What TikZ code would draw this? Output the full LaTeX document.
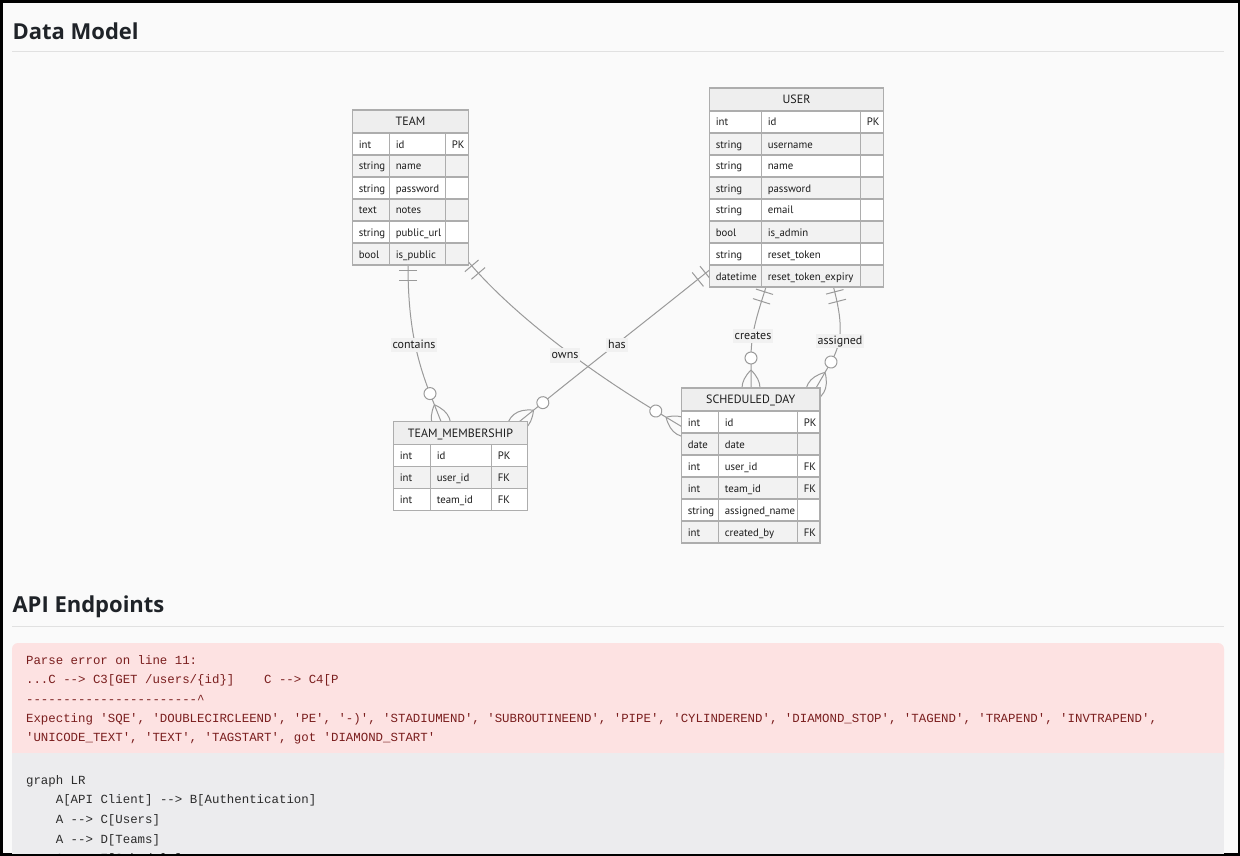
\documentclass[tikz,border=0pt]{standalone}
\usepackage{fontspec}
\setmainfont{PT Sans}
\setmonofont{Liberation Mono}
\newfontfamily\headfont{Open Sans}
\usetikzlibrary{calc}
\definecolor{pagebg}{HTML}{FAFAFA}
\definecolor{rulec}{HTML}{E1E1E1}
\definecolor{tborder}{HTML}{ADADAD}
\definecolor{hdrfill}{HTML}{EEEEEE}
\definecolor{evenfill}{HTML}{F2F2F2}
\definecolor{linec}{HTML}{9A9A9A}
\definecolor{txt}{HTML}{1C1C1C}
\definecolor{errbg}{HTML}{FDE2E2}
\definecolor{errtxt}{HTML}{7A1E1E}
\definecolor{codebg}{HTML}{ECECEE}
\definecolor{codetxt}{HTML}{2B2B2B}
\definecolor{headtxt}{HTML}{1F2328}
\definecolor{labelbg}{HTML}{F1F1F1}
\tikzset{
  tline/.style={draw=tborder, line width=1pt},
  hdrtext/.style={font=\fontsize{9}{11}\selectfont, text=txt, inner sep=0pt, anchor=base},
  celltext/.style={font=\fontsize{8.1}{10}\selectfont, text=txt, inner sep=0pt, anchor=base west},
  rline/.style={draw=linec, line width=0.75pt},
  rlabel/.style={fill=labelbg, text=txt, font=\fontsize{9}{11}\selectfont, inner xsep=1.5pt, inner ysep=1pt, text height=6.6pt, text depth=2pt},
  heading/.style={font=\headfont\bfseries\fontsize{16.5}{20}\selectfont, text=headtxt, inner sep=0pt, anchor=base west},
  errline/.style={font=\ttfamily\fontsize{9.3}{11}\selectfont, text=errtxt, inner sep=0pt, anchor=base west},
  codeline/.style={font=\ttfamily\fontsize{9.3}{11}\selectfont, text=codetxt, inner sep=0pt, anchor=base west},
  tablebox/.style={inner sep=0pt, outer sep=0pt, anchor=north west},
}
% #1 xL, #2 yT, #3 xc1, #4 xc2, #5 xR, #6 title, #7 rows
\newcommand\ertable[7]{%
  \fill[hdrfill] (#1,#2) rectangle (#5,#2+23);
  \draw[tline] (#1,#2) rectangle (#5,#2+23);
  \node[hdrtext] at ({(#1+#5)/2},#2+15.5) {#6};
  \foreach \ta/\na/\ka [count=\ri] in {#7} {
    \pgfmathsetmacro\ytop{#2+23+(\ri-1)*22}
    \ifodd\ri\def\rowfill{white}\else\def\rowfill{evenfill}\fi
    \fill[\rowfill] (#1,\ytop) rectangle (#5,\ytop+22);
  }
  \foreach \ta/\na/\ka [count=\ri] in {#7} {
    \pgfmathsetmacro\ytop{#2+23+(\ri-1)*22}
    \draw[tline] (#1,\ytop) rectangle (#3,\ytop+22);
    \draw[tline] (#3,\ytop) rectangle (#4,\ytop+22);
    \draw[tline] (#4,\ytop) rectangle (#5,\ytop+22);
    \node[celltext] at (#1+6,\ytop+15) {\ta};
    \node[celltext] at (#3+6,\ytop+15) {\na};
    \node[celltext] at (#4+6,\ytop+15) {\ka};
  }
}
% #1 start coord, #2 start angle, #3 end coord, #4 end angle, #5 ctrl1 dist, #6 ctrl2 offset (negative)
\newcommand\relation[6]{%
  \draw[rline] (#1) .. controls ($(#1)+(#2:#5)$) and ($(#3)+(#4:#6)$) .. ($(#3)+(#4:-30)$) -- ($(#3)+(#4:18)$);
  \begin{scope}[shift={(#1)}, rotate=-#2]
    \draw[rline] (5,-9) -- (5,9) (15,-9) -- (15,9);
  \end{scope}
  \begin{scope}[shift={(#3)}, rotate=-#4]
    \draw[rline] (-18,0) .. controls (-6,12) and (6,12) .. (18,0);
    \draw[rline] (-18,0) .. controls (-6,-12) and (6,-12) .. (18,0);
    \draw[rline, fill=white] (-30,0) circle[radius=4.5pt];
  \end{scope}
}
\begin{document}
\begin{tikzpicture}[x=0.75pt,y=-0.75pt]
\useasboundingbox (0,0) rectangle (1240,856);
\fill[black] (0,0) rectangle (1240,856);
\fill[pagebg] (2.7,2.7) rectangle (1237.5,853.3);
\begin{scope}
\clip (2.7,2.7) rectangle (1237.5,853.3);

% headings
\node[heading] (h1) at (12.3,39.3) {Data Model};
\draw[rulec, line width=0.75pt] (12,51.5) -- (1224,51.5);
\node[heading] (h2) at (12.3,612.7) {API Endpoints};
\draw[rulec, line width=0.75pt] (12,626.5) -- (1224,626.5);

% table nodes (frames)
\node[tablebox, minimum width={(468.5-352.5)*0.75pt}, minimum height={(23+6*22)*0.75pt}] (team) at (352.5,110) {};
\node[tablebox, minimum width={(883.5-709.5)*0.75pt}, minimum height={(23+8*22)*0.75pt}] (user) at (709.5,88) {};
\node[tablebox, minimum width={(527.5-393.5)*0.75pt}, minimum height={(23+3*22)*0.75pt}] (tm) at (393.5,421.5) {};
\node[tablebox, minimum width={(820-681.5)*0.75pt}, minimum height={(23+6*22)*0.75pt}] (sd) at (681.5,388) {};

% connector end points
\coordinate (cS) at ($(team.south west)+(55.5,0)$);
\coordinate (cE) at ($(tm.north west)+(47.5,0)$);
\coordinate (oS) at ($(team.north east)+(0,152)$);
\coordinate (oE) at ($(sd.north west)+(0,38.5)$);
\coordinate (hS) at ($(user.south west)+(0,-17)$);
\coordinate (hE) at ($(tm.north west)+(126,0)$);
\coordinate (crS) at ($(user.south west)+(56.5,0)$);
\coordinate (crE) at ($(sd.north west)+(69.5,0)$);
\coordinate (aS) at ($(user.south west)+(124,0)$);
\coordinate (aE) at ($(sd.north west)+(134.5,0)$);

% relationships
\relation{cS}{90}{cE}{68.5}{55}{-70}
\relation{oS}{49.5}{oE}{31}{80}{-90}
\relation{hS}{141.1}{hE}{141.1}{70}{-100}
\relation{crS}{107.5}{crE}{90}{30}{-55}
\relation{aS}{75.5}{aE}{120}{35}{-55}

% tables
\ertable{352.5}{110}{389.5}{445.5}{468.5}{TEAM}{int/id/PK, string/name/, string/password/, text/notes/, string/public\_url/, bool/is\_public/}
\ertable{709.5}{88}{761.5}{860.5}{883.5}{USER}{int/id/PK, string/username/, string/name/, string/password/, string/email/, bool/is\_admin/, string/reset\_token/, datetime/reset\_token\_expiry/}
\ertable{393.5}{421.5}{430.5}{491.5}{527.5}{TEAM\_MEMBERSHIP}{int/id/PK, int/user\_id/FK, int/team\_id/FK}
\ertable{681.5}{388}{718.5}{797.5}{820}{SCHEDULED\_DAY}{int/id/PK, date/date/, int/user\_id/FK, int/team\_id/FK, string/assigned\_name/, int/created\_by/FK}

% labels
\node[rlabel] (lcontains) at (414,345) {contains};
\node[rlabel] (lowns) at (565,355.5) {owns};
\node[rlabel] (lhas) at (617,345) {has};
\node[rlabel] (lcreates) at (753,336) {creates};
\node[rlabel] (lassigned) at (840,341) {assigned};

% error box and code block
\fill[errbg, rounded corners=4.5pt] (12,643) rectangle (1224,775);
\fill[codebg] (12,753) rectangle (1224,880);
\node[errline] (e1) at (25.8,664.5) {Parse error on line 11:};
\node[errline] (e2) at (25.8,683.8) {...C --> C3[GET /users/\{id\}]\ \ \ \ C --> C4[P};
\node[errline] (e3) at (25.8,703.1) {-----------------------\textasciicircum};
\node[errline] (e4) at (25.8,722.4) {Expecting 'SQE', 'DOUBLECIRCLEEND', 'PE', '-)', 'STADIUMEND', 'SUBROUTINEEND', 'PIPE', 'CYLINDEREND', 'DIAMOND\_STOP', 'TAGEND', 'TRAPEND', 'INVTRAPEND',};
\node[errline] (e5) at (25.8,741.7) {'UNICODE\_TEXT', 'TEXT', 'TAGSTART', got 'DIAMOND\_START'};
\node[codeline] (k1) at (25.8,784) {graph LR};
\node[codeline] (k2) at (55.6,803.3) {A[API Client] --> B[Authentication]};
\node[codeline] (k3) at (55.6,823.3) {A --> C[Users]};
\node[codeline] (k4) at (55.6,843.3) {A --> D[Teams]};
\node[codeline] (k5) at (55.6,862.6) {A --> E[Schedule]};
\end{scope}
\end{tikzpicture}
\end{document}
